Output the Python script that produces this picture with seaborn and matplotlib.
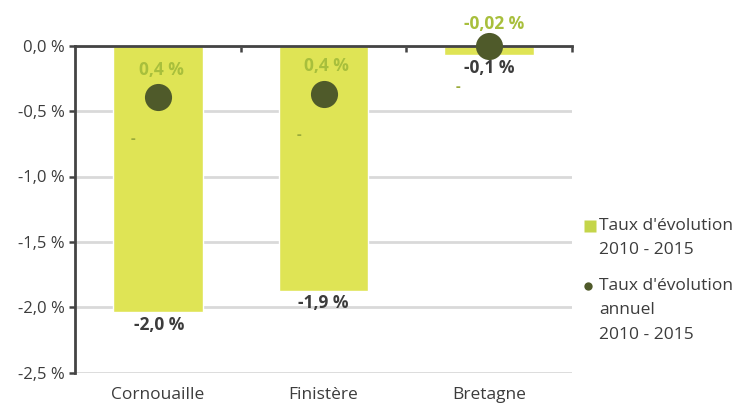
import pandas as pd
import matplotlib.pyplot as plt
import seaborn as sns
from matplotlib.lines import Line2D

sns.set_style("white")
plt.rcParams['font.family'] = ['Open Sans', 'DejaVu Sans']

# données
zones = ["Cornouaille", "Finistère", "Bretagne"]
taux_2010_2015 = [-2.036, -1.873, -0.07]
taux_annuel = [-0.39, -0.37, 0.0]
lbl_barres = ["-2,0 %", "-1,9 %", "-0,1 %"]
lbl_points = ["0,4 %", "0,4 %", "-0,02 %"]
yticks = [0.0, -0.5, -1.0, -1.5, -2.0, -2.5]
ylabels = ["0,0 %", "-0,5 %", "-1,0 %", "-1,5 %", "-2,0 %", "-2,5 %"]
leg_barres = ["Taux d'évolution", "2010 - 2015"]
leg_points = ["Taux d'évolution", "annuel", "2010 - 2015"]

BAR_COL = "#dfe455"
LEG_BAR = "#c4d54a"
DOT_COL = "#4f5a2a"
LBL_GREEN = "#a8bf3c"
DASH_COL = "#9aab3a"
TXT = "#3c3c3c"
AXC = "#444444"

W, H = 737, 403
df = pd.DataFrame({"zone": zones, "taux": taux_2010_2015, "annuel": taux_annuel})

fig = plt.figure(figsize=(W / 100, H / 100), dpi=100)
ax = fig.add_axes([75 / W, 1 - 372.7 / H, 497 / W, 327 / H])

ax.set_ylim(-2.5, 0)
ax.set_yticks(yticks)
ax.set_yticklabels(ylabels, fontsize=12, color=TXT)
ax.yaxis.grid(True, color="#d9d9d9", linewidth=2)
ax.set_axisbelow(True)

sns.barplot(data=df, x="zone", y="taux", color=BAR_COL, width=0.54,
            saturation=1, ax=ax, zorder=2)
sns.pointplot(data=df, x="zone", y="annuel", color=DOT_COL, linestyle="none",
              markers="o", markersize=17.5, errorbar=None, ax=ax)
for art in ax.lines:
    art.set_zorder(4)
    art.set_clip_on(False)
for art in ax.collections:
    art.set_zorder(4)
    art.set_clip_on(False)

ax.set_xlim(-0.5, 2.5)
ax.set_xlabel("")
ax.set_ylabel("")
ax.tick_params(axis="x", which="major", length=0, labelsize=12.5,
               labelcolor=TXT, pad=10)
ax.set_xticks([0.5, 1.5, 2.5], minor=True)
ax.tick_params(axis="x", which="minor", top=True, bottom=False,
               direction="in", length=4.5, width=1.8, color=AXC)
ax.tick_params(axis="y", left=True, direction="out", length=4.5, width=1.8,
               color=AXC, pad=3)

for s in ["right", "bottom"]:
    ax.spines[s].set_visible(False)
for s in ["top", "left"]:
    ax.spines[s].set_color(AXC)
    ax.spines[s].set_linewidth(2)
    ax.spines[s].set_zorder(3)

# étiquettes des barres
bar_lbl_pos = [(0.01, -2.135), (1.0, -1.967), (2.0, -0.17)]
for (x, y), t in zip(bar_lbl_pos, lbl_barres):
    ax.text(x, y, t, ha="center", va="center", fontsize=12.5,
            fontweight="bold", color=TXT, zorder=5)

# étiquettes des points
pt_lbl_pos = [(0.02, -0.186), (1.02, -0.155), (2.03, 0.166)]
for (x, y), t in zip(pt_lbl_pos, lbl_points):
    ax.text(x, y, t, ha="center", va="center", fontsize=12.5,
            fontweight="bold", color=LBL_GREEN, zorder=5, clip_on=False)

# petits tirets isolés
for x, y in [(-0.15, -0.71), (0.852, -0.685), (1.81, -0.316)]:
    ax.text(x, y, "-", ha="center", va="center", fontsize=10.5,
            fontweight="bold", color=DASH_COL, zorder=5)

# légende
fig.add_artist(Line2D([590 / W], [1 - 226 / H], marker="s", linestyle="none",
                      markersize=8.5, markerfacecolor=LEG_BAR,
                      markeredgecolor="none", transform=fig.transFigure))
fig.add_artist(Line2D([588 / W], [1 - 286 / H], marker="o", linestyle="none",
                      markersize=6, markerfacecolor=DOT_COL,
                      markeredgecolor="none", transform=fig.transFigure))
for t, y in zip(leg_barres, [226, 250]):
    fig.text(599 / W, 1 - y / H, t, ha="left", va="center", fontsize=12.5,
             color=TXT)
for t, y in zip(leg_points, [286, 310, 335]):
    fig.text(599 / W, 1 - y / H, t, ha="left", va="center", fontsize=12.5,
             color=TXT)

fig.savefig("out.png", dpi=100)
